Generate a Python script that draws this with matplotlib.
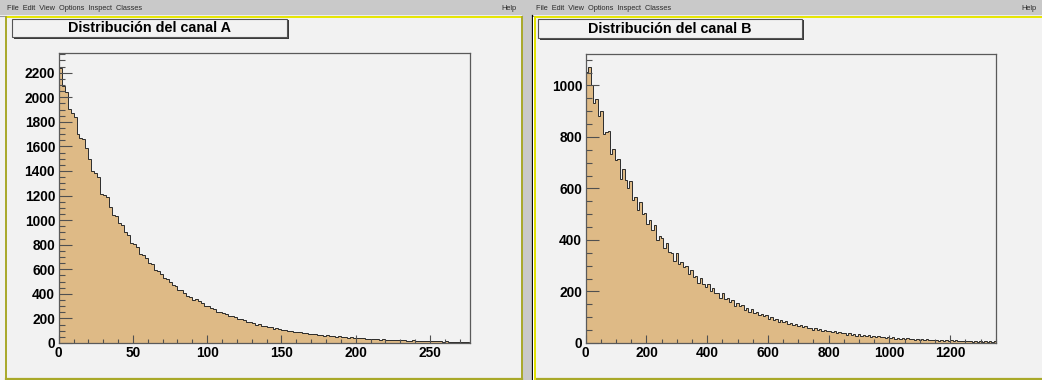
import numpy as np
import matplotlib
matplotlib.use("Agg")
import matplotlib.pyplot as plt
from matplotlib.patches import Rectangle
from matplotlib.lines import Line2D
from matplotlib.ticker import MultipleLocator

# tamaño de la captura en pixeles (dpi 100)
W, H = 1042, 380

# ---- datos ----
# canal A: 138 bins de ancho 2 (0..276)
canal_a_rango = (0, 276)
canal_a = [
    2240, 2095, 2040, 1905, 1870, 1840, 1700, 1672, 1660, 1590,
    1495, 1400, 1385, 1350, 1215, 1205, 1190, 1110, 1045, 1030,
    975, 962, 900, 880, 812, 808, 780, 728, 716, 690,
    648, 640, 592, 590, 560, 528, 520, 500, 470, 462,
    431, 428, 410, 384, 378, 350, 355, 338, 322, 300,
    305, 282, 278, 252, 256, 243, 236, 218, 220, 208,
    192, 195, 184, 170, 174, 162, 150, 156, 140, 139,
    128, 134, 118, 119, 114, 104, 108, 96, 99, 90,
    86, 89, 78, 83, 72, 76, 70, 64, 68, 59,
    62, 55, 58, 50, 53, 47, 50, 43, 46, 42,
    44, 37, 40, 35, 33, 36, 30, 33, 28, 31,
    27, 25, 28, 23, 26, 22, 24, 20, 19, 22,
    18, 20, 16, 18, 17, 14, 16, 13, 15, 12,
    14, 11, 12, 10, 12, 9, 11, 9,
]
# canal B: 169 bins de ancho 8 (0..1352)
canal_b_rango = (0, 1352)
canal_b = [
    1053, 1072, 1000, 930, 948, 883, 899, 812, 819, 825,
    732, 753, 709, 715, 638, 677, 631, 600, 629, 557,
    568, 517, 549, 502, 506, 462, 479, 438, 459, 399,
    415, 406, 367, 389, 352, 351, 320, 349, 307, 313,
    294, 300, 268, 284, 257, 262, 234, 252, 229, 217,
    228, 202, 212, 193, 195, 174, 193, 169, 174, 160,
    166, 145, 155, 143, 148, 130, 134, 121, 133, 115,
    119, 108, 114, 103, 109, 93, 100, 91, 95, 83,
    89, 80, 86, 74, 77, 68, 75, 66, 69, 61,
    67, 58, 60, 52, 60, 51, 54, 47, 52, 45,
    48, 41, 47, 39, 43, 37, 40, 33, 38, 33,
    36, 29, 34, 28, 32, 26, 30, 24, 28, 22,
    27, 22, 25, 20, 24, 18, 22, 17, 21, 17,
    19, 15, 18, 15, 17, 13, 16, 13, 15, 11,
    14, 11, 13, 10, 13, 9, 12, 9, 10, 8,
    11, 7, 10, 7, 9, 6, 9, 6, 8, 5,
    8, 5, 7, 5, 7, 4, 6, 4, 6,
]

titulos = ["Distribución del canal A", "Distribución del canal B"]
menu_texto = "File  Edit  View  Options  Inspect  Classes"

# colores estilo ROOT
FONDO = "#f2f2f2"
RELLENO = "#deba86"
MENU = "#c9c9c9"
AMARILLO = "#e8e800"
OLIVA = "#a9a929"
FUENTE = ["Liberation Sans", "DejaVu Sans"]


def rect_px(fig, x0, y0, x1, y1, **kw):
    """rectangulo en coordenadas de pixel (origen arriba a la izquierda)"""
    fig.add_artist(Rectangle((x0 / W, 1 - y1 / H), (x1 - x0) / W, (y1 - y0) / H,
                             transform=fig.transFigure, **kw))


def linea_px(fig, x0, y0, x1, y1, **kw):
    fig.add_artist(Line2D([x0 / W, x1 / W], [1 - y0 / H, 1 - y1 / H],
                          transform=fig.transFigure, **kw))


def ejes_px(fig, x0, y0, x1, y1):
    return fig.add_axes([x0 / W, 1 - y1 / H, (x1 - x0) / W, (y1 - y0) / H])


def ventana(fig, x0, x1, borde_izq):
    """barra de menu + marco amarillo del canvas"""
    rect_px(fig, x0, 0, x1, 15, facecolor=MENU, edgecolor="none", zorder=0)
    linea_px(fig, x0, 15.5, x1, 15.5, color="#9a9a9a", lw=0.8)
    fig.text((x0 + borde_izq + 1) / W, 1 - 8 / H, menu_texto, fontsize=5.3,
             family=FUENTE, color="#2a2a2a", va="center", ha="left")
    fig.text((x1 - 21) / W, 1 - 8 / H, "Help", fontsize=5.3, family=FUENTE,
             color="#2a2a2a", va="center", ha="left")
    # marco del canvas
    linea_px(fig, x0 + borde_izq, 17, x1, 17, color=AMARILLO, lw=1.4)
    linea_px(fig, x0 + borde_izq, 17, x0 + borde_izq, 380, color=OLIVA, lw=1.4)
    linea_px(fig, x0 + borde_izq, 379, x1, 379, color=OLIVA, lw=1.6)


def caja_titulo(fig, x0, y0, x1, y1, texto):
    # sombra + caja
    rect_px(fig, x0 + 1.5, y0 + 1.5, x1 + 1.5, y1 + 1.5, facecolor="#3a3a3a",
            edgecolor="none", zorder=2)
    rect_px(fig, x0, y0, x1, y1, facecolor=FONDO, edgecolor="#555555",
            lw=0.8, zorder=3)
    fig.text((x0 + x1) / 2 / W, 1 - ((y0 + y1) / 2 + 0.5) / H, texto,
             fontsize=10.4, fontweight="bold", family=FUENTE,
             ha="center", va="center", zorder=4)


def histograma(ax, valores, rango, xlim, ylim, xmaj, xmin, ymaj, ymin):
    edges = np.linspace(rango[0], rango[1], len(valores) + 1)
    ax.stairs(valores, edges, fill=True, color=RELLENO, zorder=1)
    ax.stairs(valores, edges, color="#2b2b2b", lw=0.7, zorder=1.2)
    ax.set_xlim(*xlim)
    ax.set_ylim(*ylim)
    ax.set_facecolor(FONDO)
    ax.xaxis.set_major_locator(MultipleLocator(xmaj))
    ax.xaxis.set_minor_locator(MultipleLocator(xmin))
    ax.yaxis.set_major_locator(MultipleLocator(ymaj))
    ax.yaxis.set_minor_locator(MultipleLocator(ymin))
    ax.tick_params(axis="x", which="major", direction="in", length=6.0,
                   width=0.8, color="#505050", pad=2.5)
    ax.tick_params(axis="x", which="minor", direction="in", length=3.1,
                   width=0.8, color="#505050")
    ax.tick_params(axis="y", which="major", direction="in", length=9.4,
                   width=0.8, color="#505050", pad=2.5)
    ax.tick_params(axis="y", which="minor", direction="in", length=4.5,
                   width=0.8, color="#505050")
    for lab in ax.get_xticklabels() + ax.get_yticklabels():
        lab.set_fontfamily(FUENTE)
        lab.set_fontweight("bold")
        lab.set_fontsize(9.9)
    for s in ax.spines.values():
        s.set_color("#5a5a5a")
        s.set_linewidth(0.9)


fig = plt.figure(figsize=(W / 100, H / 100), dpi=100, facecolor=FONDO)

# separacion gris entre las dos ventanas
rect_px(fig, 522, 0, 531.5, 380, facecolor=MENU, edgecolor="none", zorder=0)

# ventana izquierda
ventana(fig, 0, 522, 6)
linea_px(fig, 521.5, 17, 521.5, 380, color=OLIVA, lw=1.4)

# ventana derecha (borde negro + blanco + amarillo)
ventana(fig, 531.5, 1042, 3)
linea_px(fig, 532.3, 15, 532.3, 380, color="black", lw=0.9)
linea_px(fig, 533.3, 17, 533.3, 380, color="white", lw=0.8)
linea_px(fig, 534.6, 17, 534.6, 380, color=AMARILLO, lw=1.3)

# histogramas
ax_a = ejes_px(fig, 58.7, 53, 470, 343)
histograma(ax_a, canal_a, canal_a_rango, (0, 277), (0, 2360), 50, 10, 200, 50)

ax_b = ejes_px(fig, 585.7, 54, 996, 343)
histograma(ax_b, canal_b, canal_b_rango, (0, 1351), (0, 1122), 200, 50, 200, 50)

caja_titulo(fig, 12, 19, 287, 37, titulos[0])
caja_titulo(fig, 538, 19, 802, 38, titulos[1])

fig.savefig("out.png", dpi=100, facecolor=FONDO)
